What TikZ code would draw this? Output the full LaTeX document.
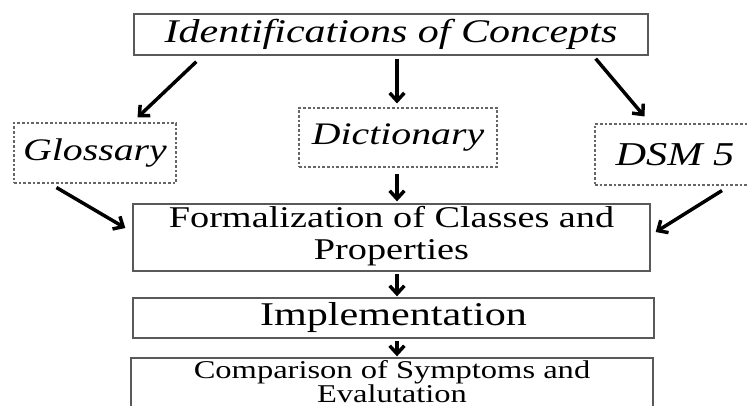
\documentclass[tikz,border=0pt]{standalone}
\usepackage{fontspec}
\setmainfont{Liberation Serif}
\usetikzlibrary{arrows.meta}
\tikzstyle{arrow} = [line width=2.6pt,->,>={Straight Barb[length=6pt,width=11pt]}]
\tikzstyle{solidbox} = [draw=black!65,line width=1pt,inner sep=0pt]
\tikzstyle{dashbox} = [draw=black!60,line width=0.8pt,dash pattern=on 2pt off 1.5pt,inner sep=0pt]
\newcommand{\wide}[1]{\scalebox{1.27}[1]{#1}}

\begin{document}
\begin{tikzpicture}[x=0.75pt,y=-0.75pt]
\useasboundingbox (0,0) rectangle (748,405);

% boxes
\node[solidbox,minimum width=385.5pt,minimum height=30.75pt] (ident) at (391,34.5)
{\fontsize{24.8}{26}\selectfont\itshape\wide{Identifications of Concepts}};
\node[dashbox,minimum width=121.5pt,minimum height=45pt] (gloss) at (95,153)
{\fontsize{23.5}{25}\selectfont\itshape\wide{Glossary}};
\node[dashbox,minimum width=148.5pt,minimum height=44.25pt] (dict) at (398,137.5)
{\fontsize{23.5}{25}\selectfont\itshape\wide{Dictionary}};
\node[dashbox,minimum width=120pt,minimum height=45.75pt] (dsm) at (675,154.5)
{\fontsize{25}{26}\selectfont\itshape\wide{DSM 5}};
\node[solidbox,minimum width=387.75pt,minimum height=50.25pt] (formal) at (391.5,237.5)
{\fontsize{22.6}{24}\selectfont\wide{\begin{tabular}{@{}c@{}}Formalization of Classes and\\Properties\end{tabular}}};
\node[solidbox,minimum width=390.75pt,minimum height=30pt] (impl) at (393.5,318)
{\fontsize{24.9}{26}\selectfont\wide{Implementation}};
\node[solidbox,minimum width=391.5pt,minimum height=40.5pt] (comp) at (392,385)
{\fontsize{19.2}{15.5}\selectfont\wide{\begin{tabular}{@{}c@{}}Comparison of Symptoms and\\Evalutation\end{tabular}}};

% arrows
\draw[arrow] ([xshift=47.25pt,yshift=-4.5pt]ident.south west) -- ([xshift=-29.25pt,yshift=3.75pt]gloss.north east);
\draw[arrow] ([xshift=4.5pt,yshift=-2.25pt]ident.south) -- ([xshift=-0.75pt,yshift=3pt]dict.north);
\draw[arrow] ([xshift=-39.75pt,yshift=-2.25pt]ident.south east) -- ([xshift=37.5pt,yshift=5.25pt]dsm.north west);
\draw[arrow] ([xshift=32.25pt,yshift=-3pt]gloss.south west) -- ([xshift=-5.25pt,yshift=7.125pt]formal.west);
\draw[arrow] ([xshift=-0.75pt,yshift=-4.5pt]dict.south) -- ([xshift=4.125pt,yshift=1.5pt]formal.north);
\draw[arrow] ([xshift=35.25pt,yshift=-3.75pt]dsm.south) -- ([xshift=3.75pt,yshift=4.125pt]formal.east);
\draw[arrow] ([xshift=4.125pt,yshift=-1.5pt]formal.south) -- ([xshift=2.625pt,yshift=0.75pt]impl.north);
\draw[arrow] ([xshift=2.625pt,yshift=-1.5pt]impl.south) -- ([xshift=3.75pt,yshift=0.75pt]comp.north);
\end{tikzpicture}
\end{document}
